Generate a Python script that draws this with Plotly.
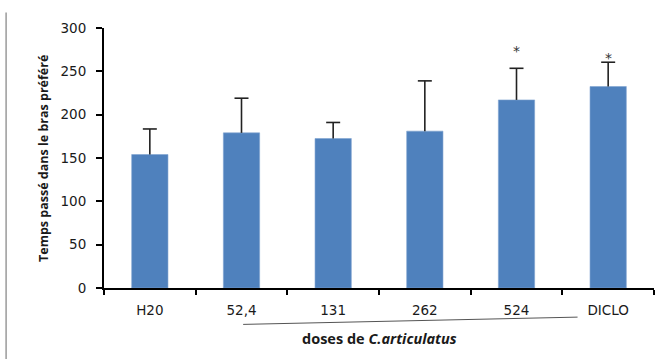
import plotly.graph_objects as go

# Data: time spent in the preferred arm per dose group
categories = ["H20", "52,4", "131", "262", "524", "DICLO"]
means = [154, 179, 172.5, 181, 217, 232.5]
sem_up = [29.5, 40, 18.5, 58, 36.5, 28]
signif = ["", "", "", "", "*", "*"]
signif_y = [0, 0, 0, 0, 273, 265]

y_ticks = [0, 50, 100, 150, 200, 250, 300]

bar_color = "#4F81BD"
err_color = "#222222"
tick_font = dict(family="DejaVu Sans", size=13.5, color="#1a1a1a")

fig = go.Figure()
fig.add_trace(go.Bar(
    x=categories,
    y=means,
    marker=dict(color=bar_color, line=dict(color="#7fa3d0", width=0.6)),
    showlegend=False,
    hoverinfo="x+y",
))

# one-sided (upper) error bars: stem from the bar top, cap at mean + sem
stem_x, stem_y = [], []
for cat, m, e in zip(categories, means, sem_up):
    stem_x += [cat, cat, None]
    stem_y += [m, m + e, None]
fig.add_trace(go.Scatter(
    x=stem_x, y=stem_y, mode="lines",
    line=dict(color=err_color, width=1.6),
    showlegend=False, hoverinfo="skip",
))
fig.add_trace(go.Scatter(
    x=categories, y=[m + e for m, e in zip(means, sem_up)], mode="markers",
    marker=dict(symbol="line-ew", size=10, line=dict(color=err_color, width=1.6)),
    showlegend=False, hoverinfo="skip",
))

# significance marks above the bars (category index positions)
for idx, (mark, yv) in enumerate(zip(signif, signif_y)):
    if mark:
        fig.add_annotation(
            x=idx, y=yv, xref="x", yref="y", text=mark, showarrow=False,
            font=dict(family="DejaVu Sans", size=14, color="#333333"),
            xanchor="center", yanchor="middle",
        )

# bracket line under the C. articulatus dose labels
fig.add_shape(
    type="line", xref="paper", yref="paper",
    x0=0.253, y0=-0.14, x1=0.861, y1=-0.112,
    line=dict(color="#555555", width=1),
)

# thin gray rule at the left edge of the page
fig.add_shape(
    type="line", xref="paper", yref="paper",
    x0=-0.178, y0=1.06, x1=-0.178, y1=-0.3,
    line=dict(color="#9a9a9a", width=1.5),
)

# y axis title
fig.add_annotation(
    xref="paper", yref="paper", x=-0.111, y=0.50,
    text="<b>Temps passé dans le bras préféré</b>", showarrow=False,
    textangle=-90, font=dict(family="Open Sans", size=12.5, color="#1a1a1a"),
    xanchor="center", yanchor="middle",
)

# x axis title
fig.add_annotation(
    xref="paper", yref="paper", x=0.5, y=-0.195,
    text="<b>doses de <i>C.articulatus</i></b>", showarrow=False,
    font=dict(family="Open Sans", size=14.5, color="#1a1a1a"),
    xanchor="center", yanchor="middle",
)

fig.update_layout(
    width=661, height=359,
    margin=dict(l=104, r=7, t=28, b=71),
    paper_bgcolor="white", plot_bgcolor="white",
    bargap=0.604,
    xaxis=dict(
        type="category",
        categoryorder="array", categoryarray=categories,
        range=[-0.5, len(categories) - 0.5],
        showline=True, linecolor="black", linewidth=2,
        ticks="outside", tickson="boundaries", ticklen=5, tickwidth=2, tickcolor="black",
        tickfont=tick_font,
        ticklabelstandoff=9,
        showgrid=False, zeroline=False,
    ),
    yaxis=dict(
        range=[0, 300],
        tickvals=y_ticks,
        showline=True, linecolor="black", linewidth=2,
        ticks="outside", ticklen=6, tickwidth=2, tickcolor="black",
        tickfont=tick_font,
        ticklabelstandoff=7,
        showgrid=False, zeroline=False,
    ),
)

fig.write_html("out.html")
